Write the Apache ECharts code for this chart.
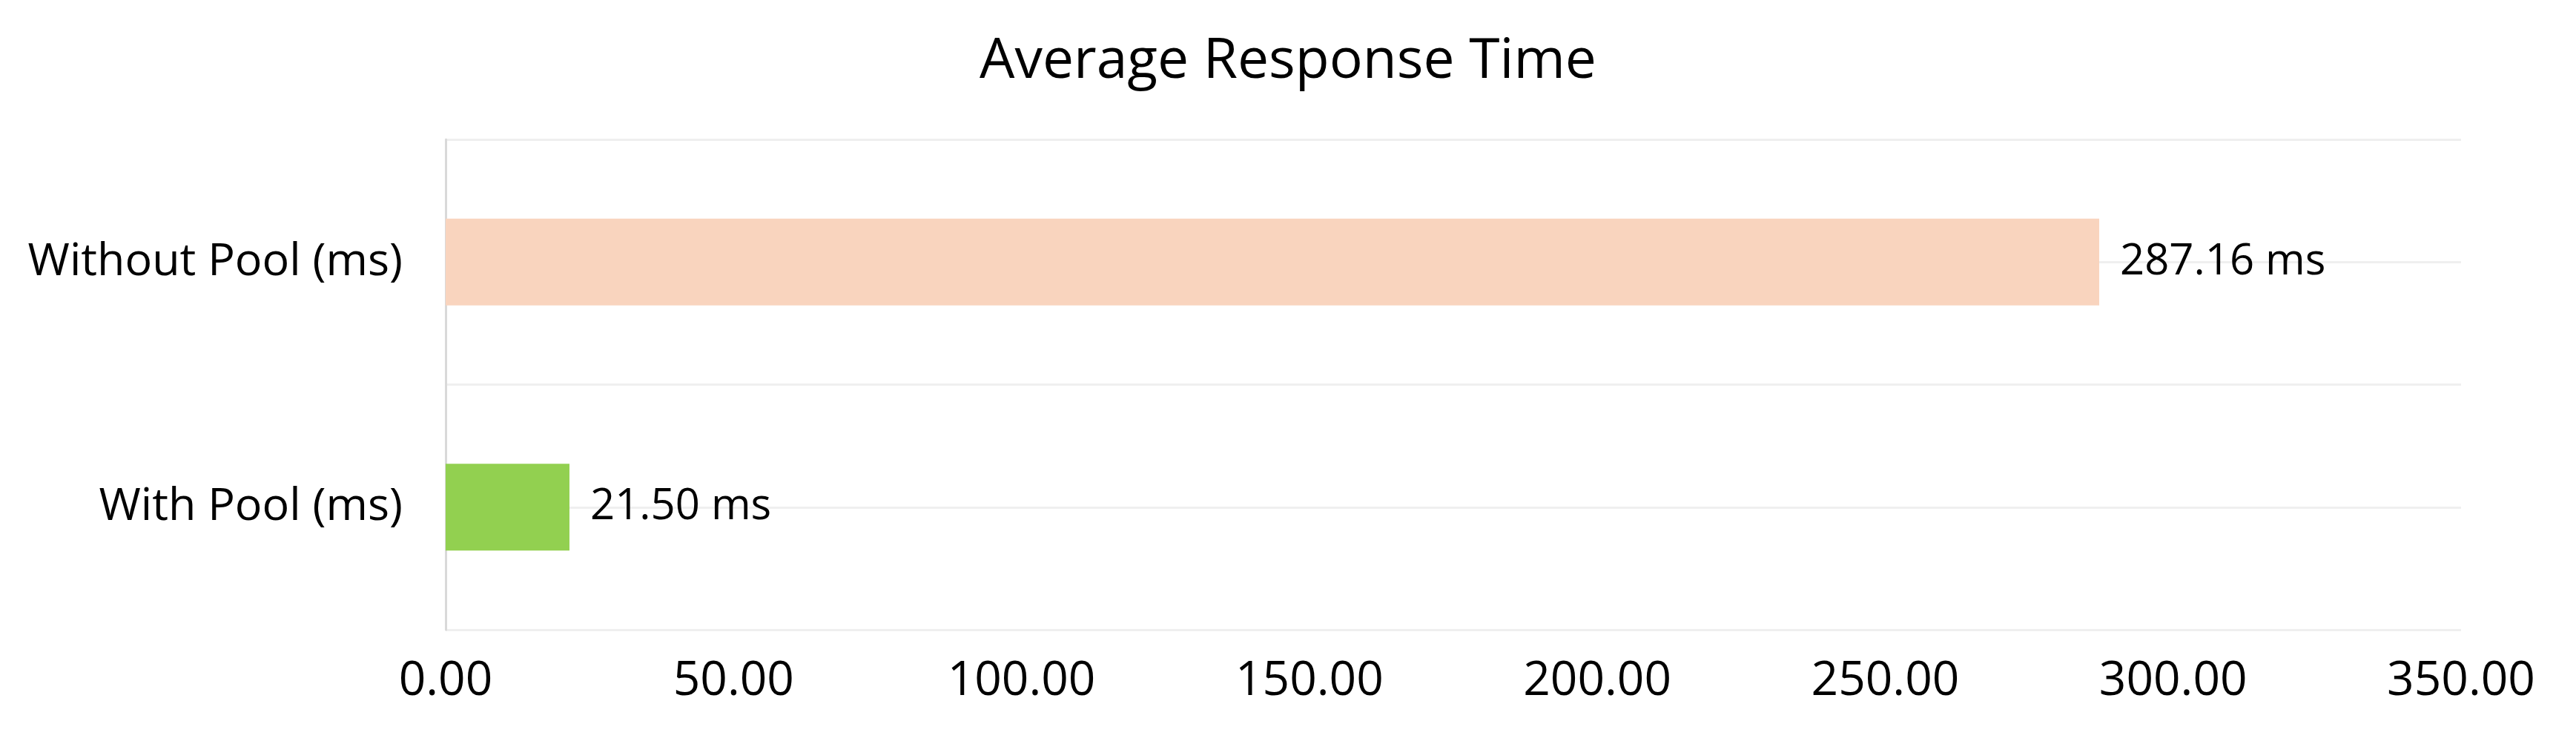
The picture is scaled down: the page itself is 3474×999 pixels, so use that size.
<!DOCTYPE html>
<html>
<head>
<meta charset="utf-8">
<script src="https://cdn.jsdelivr.net/npm/echarts@6/dist/echarts.min.js"></script>
<style>
html,body{margin:0;padding:0;background:#fff;}
#chart{width:3474px;height:999px;}
</style>
</head>
<body>
<div id="chart"></div>
<script>
const titleText = 'Average Response Time';
const categories = ['With Pool (ms)', 'Without Pool (ms)'];
const values = [21.50, 287.16];
const barColors = ['#92D050', '#F9D4BE'];
const xTicks = { min: 0, max: 350, interval: 50 };

const chart = echarts.init(document.getElementById('chart'));
const font = '"Open Sans", "Noto Sans", sans-serif';
chart.setOption({
  animation: false,
  backgroundColor: '#ffffff',
  title: {
    text: titleText,
    left: 'center',
    top: 41,
    textStyle: { fontFamily: font, fontSize: 75, fontWeight: 'normal', color: '#000' }
  },
  grid: { left: 601, right: 155, top: 188, bottom: 150, containLabel: false },
  xAxis: {
    type: 'value',
    min: xTicks.min, max: xTicks.max, interval: xTicks.interval,
    axisLine: { show: false },
    axisTick: { show: false },
    splitLine: { show: false },
    axisLabel: {
      margin: 38,
      fontFamily: font, fontSize: 64, color: '#000',
      formatter: v => v.toFixed(2)
    }
  },
  yAxis: [{
    type: 'category',
    data: categories,
    axisLine: { show: true, lineStyle: { color: '#d9d9d9', width: 3 } },
    axisTick: { show: false },
    splitLine: { show: false },
    axisLabel: { margin: 58, fontFamily: font, fontSize: 61, color: '#000' }
  }, {
    type: 'value',
    position: 'left',
    min: 0, max: 4, interval: 1,
    axisLine: { show: false },
    axisTick: { show: false },
    axisLabel: { show: false },
    splitLine: { show: true, lineStyle: { color: '#efefef', width: 3 } }
  }],
  series: [{
    type: 'bar',
    yAxisIndex: 0,
    barWidth: 117,
    data: values.map((v, i) => ({ value: v, itemStyle: { color: barColors[i] } })),
    label: {
      show: true,
      position: 'right',
      distance: 28,
      fontFamily: font, fontSize: 58, color: '#000',
      formatter: p => p.value.toFixed(2) + ' ms'
    }
  }]
});
</script>
</body>
</html>
